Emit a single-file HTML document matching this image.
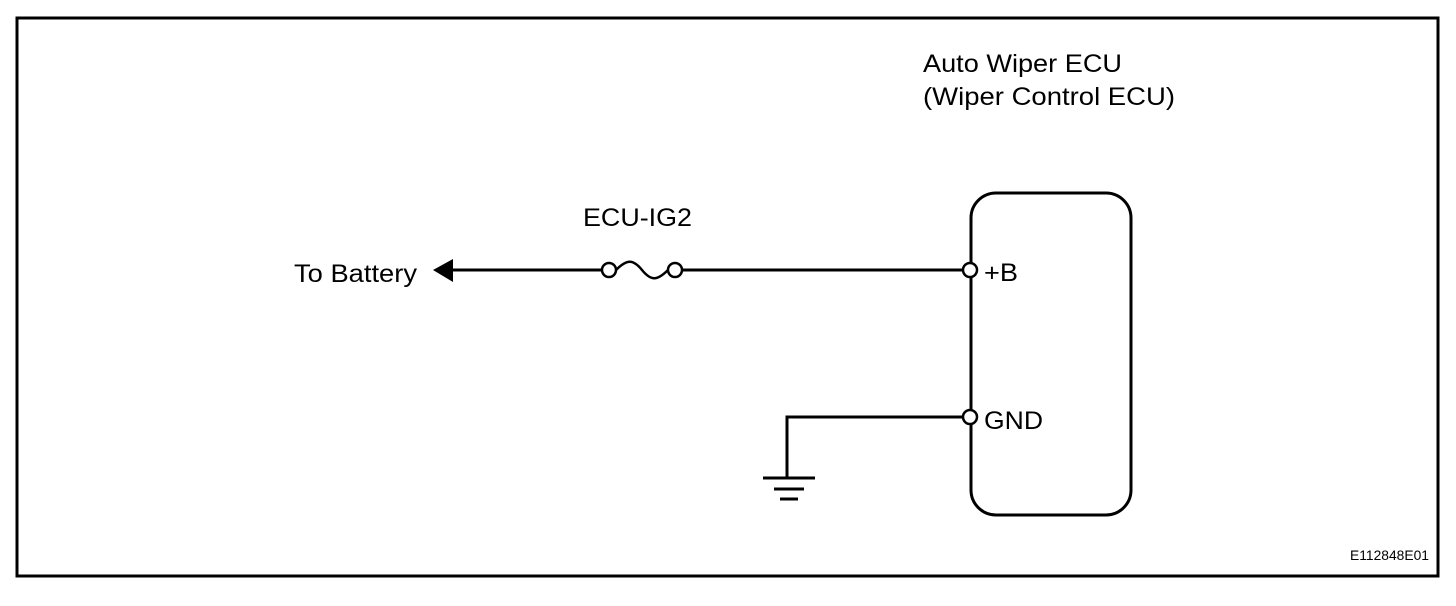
<!DOCTYPE html>
<html><head><meta charset="utf-8"><style>
html,body{margin:0;padding:0;background:#fff;}
svg{display:block;}
text{font-family:"Liberation Sans",Arial,sans-serif;fill:#000;}
</style></head><body>
<svg width="1456" height="606" viewBox="0 0 1456 606" xmlns="http://www.w3.org/2000/svg">
<rect x="17" y="18" width="1421" height="558" fill="none" stroke="#000" stroke-width="3"/>
<text x="923" y="72" font-size="25" textLength="199" lengthAdjust="spacingAndGlyphs">Auto Wiper ECU</text>
<text x="923" y="105" font-size="25" textLength="252" lengthAdjust="spacingAndGlyphs">(Wiper Control ECU)</text>
<rect x="971" y="193" width="160" height="322" rx="25" ry="25" fill="none" stroke="#000" stroke-width="3"/>
<text x="583" y="226" font-size="25" textLength="109" lengthAdjust="spacingAndGlyphs">ECU-IG2</text>
<text x="294" y="282" font-size="25" textLength="123" lengthAdjust="spacingAndGlyphs">To Battery</text>
<polygon points="433,270 453,259 453,282" fill="#000"/>
<line x1="452" y1="270" x2="603" y2="270" stroke="#000" stroke-width="3"/>
<circle cx="609" cy="270" r="7" fill="#fff" stroke="#000" stroke-width="2.5"/>
<path d="M616,270 C627,259 633,259 642,270 C651,281 657,281 668,270" fill="none" stroke="#000" stroke-width="2.5"/>
<circle cx="675" cy="270" r="7" fill="#fff" stroke="#000" stroke-width="2.5"/>
<line x1="682" y1="270" x2="963" y2="270" stroke="#000" stroke-width="3"/>
<circle cx="970" cy="270" r="7" fill="#fff" stroke="#000" stroke-width="2.5"/>
<text x="984" y="281" font-size="25" textLength="34" lengthAdjust="spacingAndGlyphs">+B</text>
<polyline points="963,417 787,417 787,478" fill="none" stroke="#000" stroke-width="3"/>
<circle cx="970" cy="417" r="7" fill="#fff" stroke="#000" stroke-width="2.5"/>
<text x="984" y="429" font-size="25" textLength="59" lengthAdjust="spacingAndGlyphs">GND</text>
<line x1="763" y1="478" x2="815" y2="478" stroke="#000" stroke-width="3"/>
<line x1="774" y1="489" x2="804" y2="489" stroke="#000" stroke-width="3"/>
<line x1="780" y1="499" x2="798" y2="499" stroke="#000" stroke-width="3"/>
<text x="1350" y="560" font-size="14" textLength="79" lengthAdjust="spacingAndGlyphs">E112848E01</text>
</svg>
</body></html>
